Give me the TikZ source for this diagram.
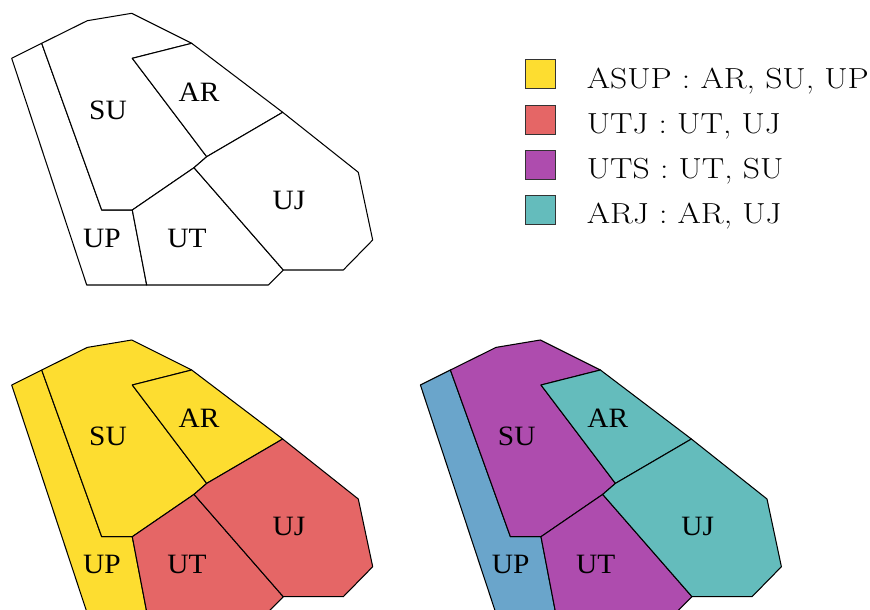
\documentclass[tikz,border=0pt]{standalone}
\usepackage{fontspec}
\newfontfamily\mapfont{Liberation Serif}[FakeStretch=1.05]
\newfontfamily\legfont{Latin Modern Roman}[FakeStretch=1.16]
\definecolor{cyellow}{RGB}{253,221,48}
\definecolor{cred}{RGB}{229,102,102}
\definecolor{cpurple}{RGB}{174,76,174}
\definecolor{cteal}{RGB}{100,188,188}
\definecolor{cblue}{RGB}{106,165,203}
\tikzset{
  region/.style={draw=black,line width=1.05pt,line join=round,fill=#1},
  maplabel/.style={font=\mapfont\fontsize{28}{31}\selectfont,inner sep=0pt},
  legbox/.style={draw=black!80,line width=0.9pt,minimum width=30pt,minimum height=29pt,inner sep=0pt,fill=#1},
  legtext/.style={font=\legfont\fontsize{29}{34}\selectfont,anchor=base west,inner sep=0pt}
}
\newcommand{\wingmap}[6]{%
\begin{scope}[name prefix=#1-]
  \coordinate (p1) at (11.7,58.3);
  \coordinate (p2) at (41.7,43.3);
  \coordinate (p3) at (87.3,20.7);
  \coordinate (p4) at (131.7,13.3);
  \coordinate (p5) at (191.7,43.3);
  \coordinate (p6) at (282.7,112.3);
  \coordinate (p7) at (358.3,172.3);
  \coordinate (p8) at (372.7,240);
  \coordinate (p9) at (343.3,270);
  \coordinate (p10) at (283.3,270);
  \coordinate (p11) at (268.3,285);
  \coordinate (p12) at (146.7,285);
  \coordinate (p13) at (86.7,285);
  \coordinate (q1) at (101.7,210);
  \coordinate (q2) at (132.3,210);
  \coordinate (a1) at (132.3,58.3);
  \coordinate (a2) at (206.7,156.7);
  \coordinate (a3) at (194,167.7);
  \path[region=#2] (p1) -- (p2) -- (q1) -- (q2) -- (p12) -- (p13) -- cycle;
  \path[region=#3] (p2) -- (p3) -- (p4) -- (p5) -- (a1) -- (a2) -- (a3) -- (q2) -- (q1) -- cycle;
  \path[region=#4] (p5) -- (p6) -- (a2) -- (a1) -- cycle;
  \path[region=#5] (q2) -- (a3) -- (p10) -- (p11) -- (p12) -- cycle;
  \path[region=#6] (a3) -- (a2) -- (p6) -- (p7) -- (p8) -- (p9) -- (p10) -- cycle;
  \node[maplabel] (su) at (108,110) {SU};
  \node[maplabel] (ar) at (199,92) {AR};
  \node[maplabel] (uj) at (289,200) {UJ};
  \node[maplabel] (up) at (102,238) {UP};
  \node[maplabel] (ut) at (187,238) {UT};
\end{scope}}
\begin{document}
\begin{tikzpicture}[x=1pt,y=-1pt]
\useasboundingbox (0,0) rectangle (870,610);
\wingmap{top}{white}{white}{white}{white}{white}
\begin{scope}[shift={(0,326.7)}]
\wingmap{bl}{cyellow}{cyellow}{cyellow}{cred}{cred}
\end{scope}
\begin{scope}[shift={(408.7,326.7)}]
\wingmap{br}{cblue}{cpurple}{cteal}{cpurple}{cteal}
\end{scope}
\node[legbox=cyellow] (k1) at (540.5,74.3) {};
\node[legbox=cred] (k2) at (540.5,119.7) {};
\node[legbox=cpurple] (k3) at (540.5,165) {};
\node[legbox=cteal] (k4) at (540.5,210) {};
\node[legtext] (t1) at (586.7,88.3) {ASUP : AR, SU, UP};
\node[legtext] (t2) at (586.7,133.5) {UTJ : UT, UJ};
\node[legtext] (t3) at (586.7,178.7) {UTS : UT, SU};
\node[legtext] (t4) at (586.7,223.8) {ARJ : AR, UJ};
\end{tikzpicture}
\end{document}
